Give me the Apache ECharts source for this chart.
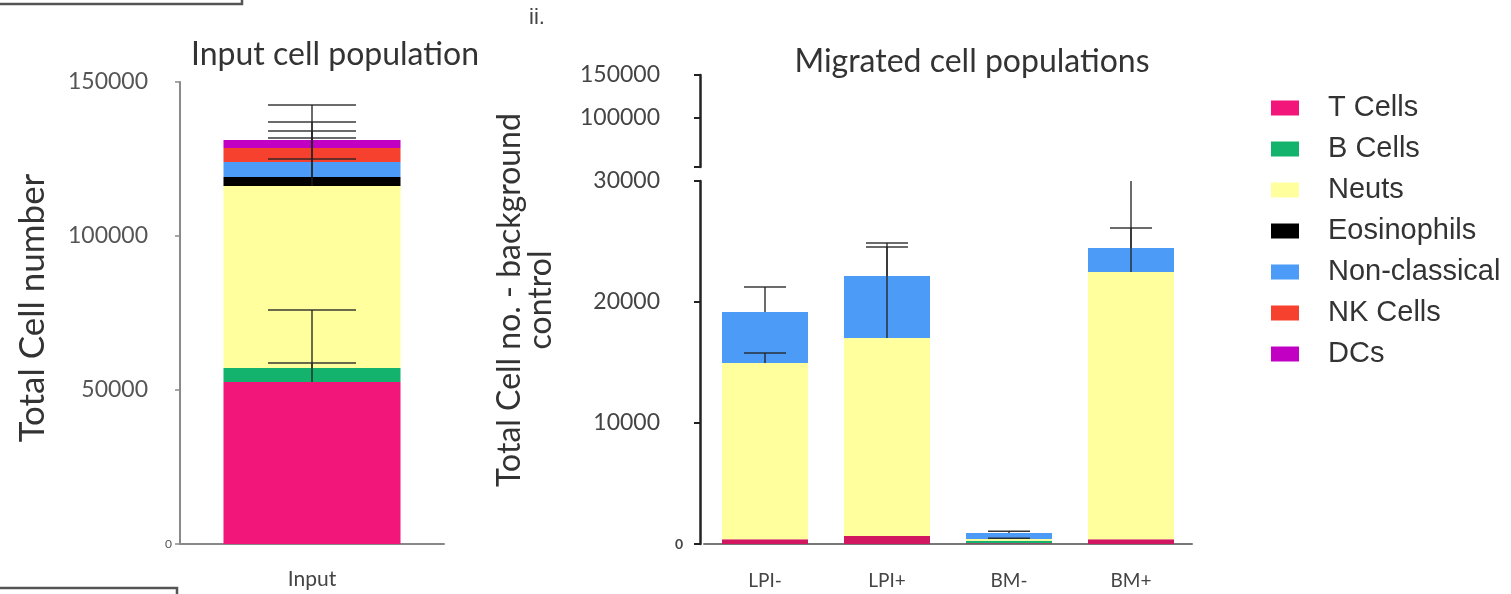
<!DOCTYPE html>
<html>
<head>
<meta charset="utf-8">
<script src="https://cdn.jsdelivr.net/npm/echarts@6/dist/echarts.min.js"></script>
<style>
  html, body { margin: 0; padding: 0; background: #ffffff; }
  #chart { width: 1511px; height: 594px; }
</style>
</head>
<body>
<div id="chart"></div>
<script>
// ---- data ----
const populations = ['T Cells', 'B Cells', 'Neuts', 'Eosinophils', 'Non-classical', 'NK Cells', 'DCs'];

// Input cell population (one stacked bar)
const inputCategories = ['Input'];
const inputCounts = [52600, 4550, 59100, 2920, 4870, 4540, 2600];
const inputErrors = [23400, 1600, 26300, 5800, 7800, 8400, 2900];

// Migrated cell populations (total cell no. minus background control)
const migratedCategories = ['LPI-', 'LPI+', 'BM-', 'BM+'];
const tCells       = [400, 660, 60, 400];
const bCells       = [0, 0, 200, 0];
const neuts        = [14560, 16360, 150, 22080];
const eosinophils  = [0, 0, 0, 0];
const nonClassical = [4210, 5130, 500, 1980];
const nkCells      = [0, 0, 0, 0];
const dcs          = [0, 0, 0, 0];

const tCellsErr       = [0, 0, 0, 0];
const bCellsErr       = [0, 0, 0, 0];
const neutsErr        = [830, 7850, 60, 9000];
const eosinophilsErr  = [0, 0, 0, 0];
const nonClassicalErr = [2070, 2400, 150, 1650];
const nkCellsErr      = [0, 0, 0, 0];
const dcsErr          = [0, 0, 0, 0];

// tick labels
const inputTicks = [0, 50000, 100000, 150000];
const lowerTicks = [0, 10000, 20000, 30000];
const upperTicks = [100000, 150000];

// ---- styles ----
const colours = ['#F2157A', '#13B36E', '#FFFF9E', '#000000', '#4B9BF7', '#F5412D', '#C200C4'];
const migratedColours = ['#D0175F', '#13B36E', '#FFFF9E', '#000000', '#4B9BF7', '#F5412D', '#C200C4'];
const migrated = [tCells, bCells, neuts, eosinophils, nonClassical, nkCells, dcs];
const migratedErr = [tCellsErr, bCellsErr, neutsErr, eosinophilsErr, nonClassicalErr, nkCellsErr, dcsErr];

const labelFont = 'Lato';
const errColour = 'rgba(35,35,35,0.9)';

// error bar drawn upward from the top of its stacked segment, with a cap
function errorSeries(points, xIdx, yIdx, capWidth) {
  return {
    type: 'custom',
    xAxisIndex: xIdx,
    yAxisIndex: yIdx,
    z: 10,
    clip: true,
    silent: true,
    data: points,
    renderItem: function (params, api) {
      const j = api.value(0);
      const a = api.coord([j, api.value(1)]);
      const b = api.coord([j, api.value(2)]);
      const h = capWidth / 2;
      const st = { stroke: errColour, lineWidth: 1.5 };
      return {
        type: 'group',
        children: [
          { type: 'line', shape: { x1: a[0], y1: a[1], x2: b[0], y2: b[1] }, style: st },
          { type: 'line', shape: { x1: b[0] - h, y1: b[1], x2: b[0] + h, y2: b[1] }, style: st }
        ]
      };
    }
  };
}

function stackedErrorPoints(valueRows, errRows) {
  const pts = [];
  const n = valueRows[0].length;
  for (let j = 0; j < n; j++) {
    let top = 0;
    for (let i = 0; i < valueRows.length; i++) {
      top += valueRows[i][j];
      const e = errRows[i][j];
      if (e > 0) pts.push([j, top, top + e]);
    }
  }
  return pts;
}

const series = [];
populations.forEach(function (name, i) {
  series.push({
    name: name, type: 'bar', stack: 'input',
    xAxisIndex: 0, yAxisIndex: 0,
    barWidth: 177,
    itemStyle: { color: colours[i] },
    data: [inputCounts[i]]
  });
});
populations.forEach(function (name, i) {
  series.push({
    name: name, type: 'bar', stack: 'migrated',
    xAxisIndex: 1, yAxisIndex: 1,
    barWidth: 86,
    itemStyle: { color: migratedColours[i] },
    data: migrated[i]
  });
});
series.push(errorSeries(
  stackedErrorPoints(inputCounts.map(function (v) { return [v]; }), inputErrors.map(function (v) { return [v]; })),
  0, 0, 88));
series.push(errorSeries(stackedErrorPoints(migrated, migratedErr), 1, 1, 42));

function tickLabel(padRight, zeroSize, zeroWeight, colour) {
  return {
    formatter: function (v) { return v === 0 ? '{z|0}' : '{n|' + v + '}'; },
    rich: {
      n: { fontFamily: labelFont, fontSize: 23, color: colour, padding: [0, padRight, 0, 0] },
      z: { fontFamily: labelFont, fontSize: zeroSize, fontWeight: zeroWeight, color: colour }
    }
  };
}

const option = {
  backgroundColor: '#ffffff',
  animation: false,
  legend: {
    data: populations,
    orient: 'vertical',
    left: 1266,
    top: 88,
    icon: 'rect',
    itemWidth: 28,
    itemHeight: 15,
    itemGap: 11,
    textStyle: { fontFamily: 'Liberation Sans', fontSize: 29, color: '#333', lineHeight: 30, padding: [0, 0, 0, 24] }
  },
  grid: [
    { left: 180, top: 82, width: 264, height: 462 },
    { left: 704, top: 181, width: 488, height: 363 },
    { left: 704, top: 75, width: 488, height: 92 }
  ],
  xAxis: [
    {
      type: 'category', gridIndex: 0, data: inputCategories,
      axisLine: { lineStyle: { color: '#888', width: 2 } },
      axisTick: { show: false },
      axisLabel: { fontFamily: labelFont, fontSize: 21, color: '#444', margin: 25 }
    },
    {
      type: 'category', gridIndex: 1, data: migratedCategories,
      axisLine: { lineStyle: { color: '#777', width: 2 } },
      axisTick: { show: false },
      axisLabel: { fontFamily: labelFont, fontSize: 19, color: '#444', margin: 27 }
    },
    { type: 'category', gridIndex: 2, data: migratedCategories, show: false }
  ],
  yAxis: [
    {
      type: 'value', gridIndex: 0, min: 0, max: 150000, interval: 50000,
      splitLine: { show: false },
      axisLine: { show: true, lineStyle: { color: '#8a8a8a', width: 2 } },
      axisTick: { show: true, length: 5, lineStyle: { color: '#8a8a8a', width: 1.5 } },
      axisLabel: Object.assign({ margin: 8, customValues: inputTicks }, tickLabel(24, 12, 'normal', '#555'))
    },
    {
      type: 'value', gridIndex: 1, min: 0, max: 30000, interval: 10000, offset: 4,
      splitLine: { show: false },
      axisLine: { show: true, lineStyle: { color: '#222', width: 2.5 } },
      axisTick: { show: true, length: 6, lineStyle: { color: '#222', width: 2 } },
      axisLabel: Object.assign({ margin: 17, customValues: lowerTicks }, tickLabel(23, 14, 'bold', '#444'))
    },
    {
      type: 'value', gridIndex: 2, min: 43000, max: 150000, offset: 4,
      splitLine: { show: false },
      axisLine: { show: true, lineStyle: { color: '#222', width: 2.5 } },
      axisTick: { show: true, length: 6, customValues: [43000, 100000, 150000], lineStyle: { color: '#222', width: 2 } },
      axisLabel: Object.assign({ margin: 17, customValues: upperTicks }, tickLabel(23, 14, 'bold', '#444'))
    }
  ],
  graphic: [
    { type: 'text', x: 335, y: 55, style: { text: 'Input cell population', fontFamily: labelFont, fontSize: 32, fill: '#333', textAlign: 'center', textVerticalAlign: 'middle' } },
    { type: 'text', x: 972, y: 62, style: { text: 'Migrated cell populations', fontFamily: labelFont, fontSize: 32, fill: '#333', textAlign: 'center', textVerticalAlign: 'middle' } },
    { type: 'text', x: 33, y: 308, rotation: Math.PI / 2, style: { text: 'Total Cell number', fontFamily: labelFont, fontSize: 35, fill: '#333', textAlign: 'center', textVerticalAlign: 'middle' } },
    { type: 'text', x: 525, y: 300, rotation: Math.PI / 2, style: { text: 'Total Cell no. - background\ncontrol', fontFamily: labelFont, fontSize: 32, lineHeight: 31, fill: '#333', textAlign: 'center', textVerticalAlign: 'middle' } },
    { type: 'text', x: 537, y: 18, style: { text: 'ii.', fontFamily: 'Liberation Sans', fontSize: 22, fill: '#444', textAlign: 'center', textVerticalAlign: 'middle' } },
    { type: 'rect', shape: { x: -4, y: -22, width: 246, height: 26 }, style: { fill: 'none', stroke: '#555', lineWidth: 2.5 } },
    { type: 'rect', shape: { x: -4, y: 588, width: 181, height: 24 }, style: { fill: 'none', stroke: '#555', lineWidth: 2.5 } }
  ],
  series: series
};

const chart = echarts.init(document.getElementById('chart'), null, { renderer: 'canvas' });
chart.setOption(option);
</script>
</body>
</html>
